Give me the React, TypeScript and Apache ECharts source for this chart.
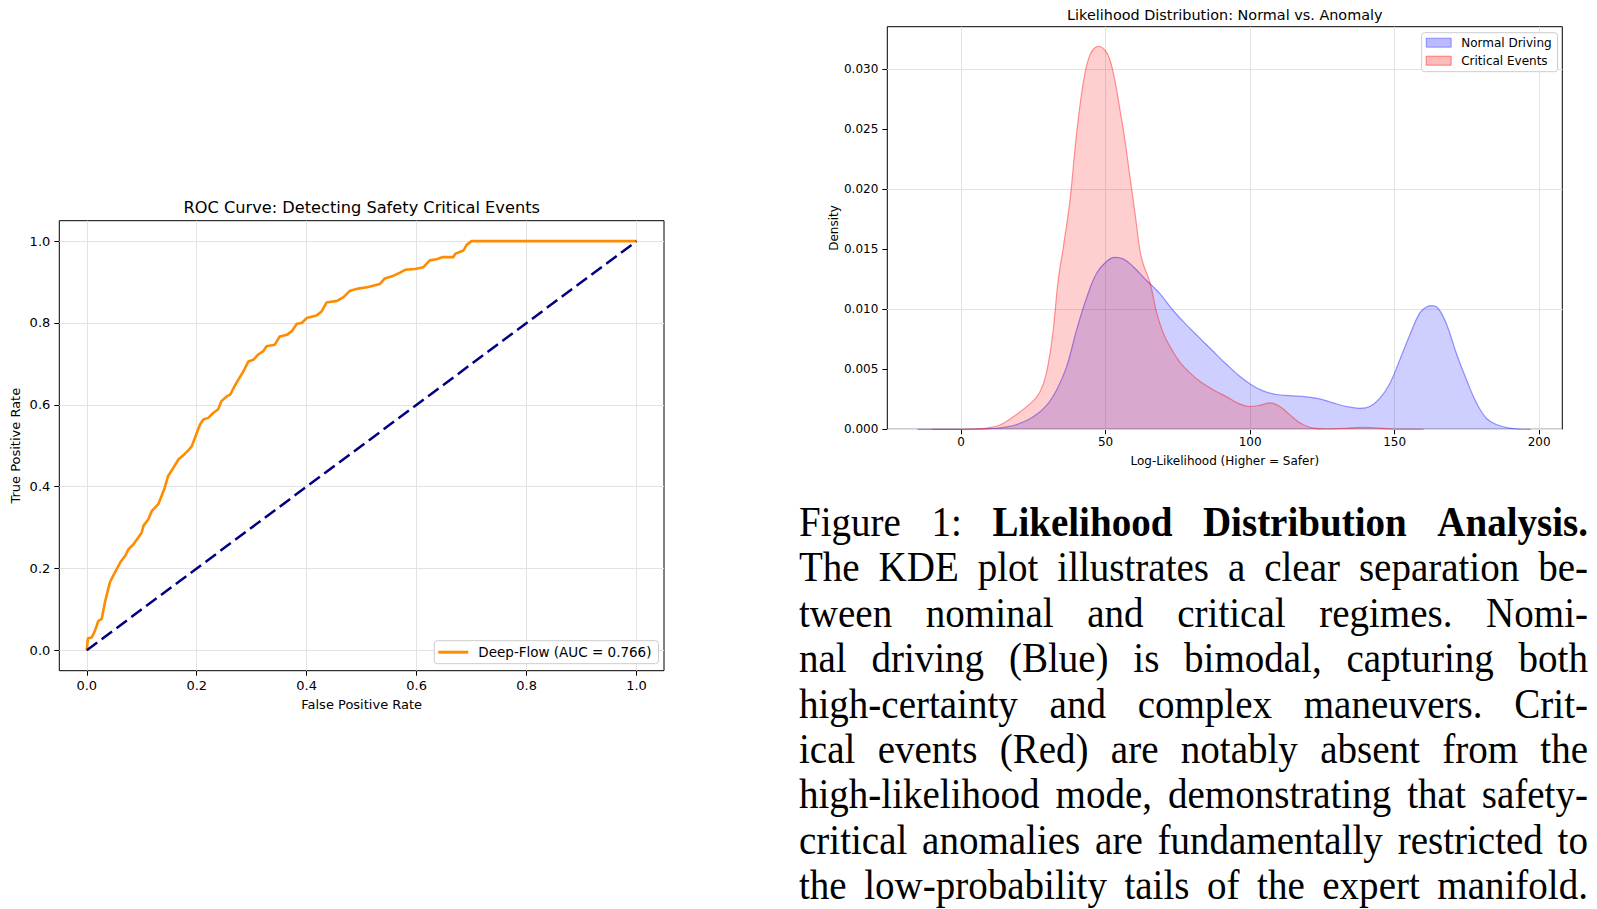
import React, { useEffect, useRef } from 'react';
import * as echarts from 'echarts';

// ---------- ROC data ----------
const rocFpr = [0, 0.002, 0.009, 0.015, 0.021, 0.027, 0.033, 0.042, 0.051, 0.061, 0.07, 0.076, 0.085, 0.094, 0.1, 0.103, 0.112, 0.118, 0.13, 0.136, 0.142, 0.148, 0.157, 0.167, 0.176, 0.185, 0.191, 0.197, 0.206, 0.212, 0.221, 0.23, 0.239, 0.245, 0.255, 0.261, 0.267, 0.276, 0.285, 0.294, 0.303, 0.312, 0.321, 0.327, 0.342, 0.351, 0.364, 0.373, 0.382, 0.391, 0.4, 0.418, 0.427, 0.436, 0.455, 0.467, 0.479, 0.494, 0.512, 0.533, 0.542, 0.555, 0.57, 0.579, 0.597, 0.612, 0.624, 0.636, 0.648, 0.667, 0.67, 0.685, 0.691, 0.7, 0.76, 1.0];
const rocTpr = [0, 0.029, 0.031, 0.048, 0.072, 0.076, 0.117, 0.166, 0.19, 0.215, 0.231, 0.247, 0.259, 0.276, 0.288, 0.304, 0.32, 0.34, 0.357, 0.377, 0.398, 0.426, 0.445, 0.467, 0.477, 0.489, 0.499, 0.52, 0.552, 0.564, 0.568, 0.58, 0.589, 0.609, 0.621, 0.625, 0.641, 0.662, 0.682, 0.706, 0.71, 0.723, 0.731, 0.743, 0.747, 0.767, 0.771, 0.78, 0.798, 0.8, 0.812, 0.818, 0.828, 0.85, 0.854, 0.863, 0.879, 0.884, 0.888, 0.895, 0.909, 0.914, 0.923, 0.93, 0.932, 0.936, 0.953, 0.956, 0.961, 0.961, 0.969, 0.977, 0.991, 1.0, 1.0, 1.0];
const diagX = [0, 1];
const diagY = [0, 1];
const rocXTicks = [0, 0.2, 0.4, 0.6, 0.8, 1.0];
const rocYTicks = [0, 0.2, 0.4, 0.6, 0.8, 1.0];
const rocTitle = 'ROC Curve: Detecting Safety Critical Events';
const rocLegendName = 'Deep-Flow (AUC = 0.766)';

// ---------- KDE data ----------
const normalX = [-15, -5, 5, 10, 15.8, 20.4, 25, 29.6, 33.1, 36.5, 40, 43.5, 46.9, 50.4, 53.2, 56.1, 59.6, 64.2, 68.8, 73.4, 78, 82.6, 87.2, 91.9, 96.5, 99.9, 104.5, 109.2, 113.8, 119.5, 124.1, 128.7, 133.4, 138, 141.4, 144.9, 148.3, 151.8, 155.3, 158.7, 161, 163, 165, 167.9, 171.4, 174.9, 178.3, 181.8, 185.2, 189.8, 193, 197];
const normalY = [0, 0, 0.00001, 0.00005, 0.0002, 0.0005, 0.00105, 0.002, 0.0033, 0.0052, 0.0083, 0.011, 0.013, 0.014, 0.01433, 0.0142, 0.01355, 0.0124, 0.0113, 0.0099, 0.0087, 0.0076, 0.0065, 0.0054, 0.0044, 0.0038, 0.0032, 0.0029, 0.0028, 0.0027, 0.00253, 0.0022, 0.0019, 0.00175, 0.0019, 0.0026, 0.0038, 0.0058, 0.0079, 0.0097, 0.0102, 0.0103, 0.0101, 0.0088, 0.0063, 0.0041, 0.0022, 0.0009, 0.0004, 0.0001, 0.00002, 0];
const criticalX = [-10, 0, 5, 8.9, 13.5, 18.1, 22.7, 26.2, 28.5, 30.2, 31.9, 33.6, 35.4, 37.7, 39.4, 41.1, 42.9, 44.6, 46.3, 47.8, 49.8, 51.5, 53.2, 55, 56.7, 58.4, 60.2, 61.9, 63, 65.4, 67.7, 70, 72.3, 75.7, 79.2, 82.6, 87.2, 91.9, 96.5, 99.9, 103.4, 106.8, 110.3, 113.8, 117.2, 121.8, 126, 130, 135, 139.1, 144.9, 149.5, 155, 160];
const criticalY = [0, 0, 0.00003, 0.0001, 0.00036, 0.00105, 0.00189, 0.0027, 0.0038, 0.0055, 0.0083, 0.0124, 0.0152, 0.0191, 0.0233, 0.0269, 0.0297, 0.0312, 0.0318, 0.0319, 0.0316, 0.0308, 0.0291, 0.0266, 0.0241, 0.0211, 0.018, 0.0149, 0.0138, 0.0122, 0.0097, 0.008, 0.0069, 0.0056, 0.0047, 0.004, 0.0033, 0.0027, 0.0021, 0.0019, 0.002, 0.0022, 0.0019, 0.0012, 0.00055, 0.0001, 0.00003, 0.00005, 0.00012, 0.00017, 0.0001, 0.00002, 0, 0];
const kdeXTicks = [0, 50, 100, 150, 200];
const kdeYTicks = [0, 0.005, 0.01, 0.015, 0.02, 0.025, 0.03];
const kdeTitle = 'Likelihood Distribution: Normal vs. Anomaly';
const normalName = 'Normal Driving';
const criticalName = 'Critical Events';

// ---------- Caption ----------
const words = (s: string) => s.split(/\s+/).map((t) => ({ text: t, bold: false }));
const captionLines: { text: string; bold?: boolean }[][] = [
  [{ text: 'Figure' }, { text: '1:' }, { text: 'Likelihood', bold: true }, { text: 'Distribution', bold: true }, { text: 'Analysis.', bold: true }],
  words('The KDE plot illustrates a clear separation be-'),
  words('tween nominal and critical regimes.  Nomi-'),
  words('nal driving (Blue) is bimodal, capturing both'),
  words('high-certainty and complex maneuvers.  Crit-'),
  words('ical events (Red) are notably absent from the'),
  words('high-likelihood mode, demonstrating that safety-'),
  words('critical anomalies are fundamentally restricted to'),
  words('the low-probability tails of the expert manifold.'),
];

const FONT = 'DejaVu Sans';
const CAP_SCALE = 0.94;
const CAP_WIDTH = 789;

function gridLines(axisIndex: number, xTicks: number[], yTicks: number[]) {
  return {
    type: 'line',
    xAxisIndex: axisIndex,
    yAxisIndex: axisIndex,
    data: [],
    silent: true,
    z: 1,
    markLine: {
      silent: true,
      z: 1,
      symbol: ['none', 'none'],
      label: { show: false },
      animation: false,
      lineStyle: { color: '#e3e3e3', width: 1, type: 'solid' },
      emphasis: { disabled: true },
      data: [...xTicks.map((v) => ({ xAxis: v })), ...yTicks.map((v) => ({ yAxis: v }))],
    },
  };
}

export default function App() {
  const ref = useRef<HTMLDivElement>(null);
  useEffect(() => {
    const chart = echarts.init(ref.current!, null, { renderer: 'svg' });
    const axisText = { fontSize: 13, color: '#000', fontFamily: FONT };
    const kdeText = { fontSize: 12, color: '#000', fontFamily: FONT };
    const tick = (vals: number[]) => ({ show: true, customValues: vals, length: 5, lineStyle: { color: '#000', width: 1 } });
    const noLine = { show: false, onZero: false };
    const option: any = {
      animation: false,
      backgroundColor: '#fff',
      grid: [
        { left: 59.3, top: 220.7, width: 604.7, height: 450, show: true, borderColor: '#000', borderWidth: 1, backgroundColor: 'transparent' },
        { left: 887.3, top: 26.7, width: 675, height: 402.6, show: true, borderColor: '#000', borderWidth: 1, backgroundColor: 'transparent' },
      ],
      graphic: [
        { type: 'text', x: 361.7, y: 207.5, style: { text: rocTitle, fontSize: 16.2, fontFamily: FONT, fill: '#000', align: 'center', verticalAlign: 'middle' } },
        { type: 'text', x: 1224.8, y: 14.8, style: { text: kdeTitle, fontSize: 14.4, fontFamily: FONT, fill: '#000', align: 'center', verticalAlign: 'middle' } },
      ],
      legend: [
        {
          left: 434.3, top: 640.7, padding: [4, 7, 4, 4], z: 10,
          itemWidth: 30, itemHeight: 3,
          backgroundColor: '#fff', borderColor: '#ccc', borderWidth: 1, borderRadius: 3,
          textStyle: { ...axisText, fontSize: 13.5, padding: [0, 0, 0, 5], lineHeight: 15 },
          data: [{ name: rocLegendName, icon: 'rect', itemStyle: { color: '#FF8C00' } }],
        },
        {
          orient: 'vertical', left: 1421.7, top: 32.7, padding: [3, 6, 4, 4], z: 10,
          itemWidth: 25, itemHeight: 9, itemGap: 4,
          backgroundColor: '#fff', borderColor: '#ccc', borderWidth: 1, borderRadius: 3,
          textStyle: { ...kdeText, padding: [0, 0, 0, 5], lineHeight: 14 },
          data: [
            { name: normalName, icon: 'rect', itemStyle: { color: 'rgba(0,0,255,0.27)', borderColor: 'rgba(0,0,255,0.35)', borderWidth: 1 } },
            { name: criticalName, icon: 'rect', itemStyle: { color: 'rgba(255,0,0,0.27)', borderColor: 'rgba(255,0,0,0.45)', borderWidth: 1 } },
          ],
        },
      ],
      xAxis: [
        {
          type: 'value', gridIndex: 0, min: -0.05, max: 1.05,
          splitLine: { show: false }, axisLine: noLine, axisTick: tick(rocXTicks),
          axisLabel: { customValues: rocXTicks, formatter: (v: number) => v.toFixed(1), margin: 8, ...axisText },
          name: 'False Positive Rate', nameLocation: 'middle', nameGap: 27, nameTextStyle: axisText,
        },
        {
          type: 'value', gridIndex: 1, min: -25.5, max: 208,
          splitLine: { show: false }, axisLine: noLine, axisTick: tick(kdeXTicks),
          axisLabel: { customValues: kdeXTicks, formatter: (v: number) => String(Math.round(v)), margin: 7, ...kdeText },
          name: 'Log-Likelihood (Higher = Safer)', nameLocation: 'middle', nameGap: 25.5, nameTextStyle: kdeText,
        },
      ],
      yAxis: [
        {
          type: 'value', gridIndex: 0, min: -0.05, max: 1.05,
          splitLine: { show: false }, axisLine: noLine, axisTick: tick(rocYTicks),
          axisLabel: { customValues: rocYTicks, formatter: (v: number) => v.toFixed(1), margin: 9, ...axisText },
          name: 'True Positive Rate', nameLocation: 'middle', nameGap: 37, nameTextStyle: axisText,
        },
        {
          type: 'value', gridIndex: 1, min: 0, max: 0.03355,
          splitLine: { show: false }, axisLine: noLine, axisTick: tick(kdeYTicks),
          axisLabel: { customValues: kdeYTicks, formatter: (v: number) => v.toFixed(3), margin: 9, ...kdeText },
          name: 'Density', nameLocation: 'middle', nameGap: 46, nameTextStyle: kdeText,
        },
      ],
      series: [
        gridLines(0, rocXTicks, rocYTicks),
        {
          name: rocLegendName, type: 'line', xAxisIndex: 0, yAxisIndex: 0,
          data: rocFpr.map((x, i) => [x, rocTpr[i]]),
          symbol: 'none', showSymbol: false, z: 3,
          lineStyle: { color: '#FF8C00', width: 2.6 }, itemStyle: { color: '#FF8C00' },
        },
        {
          name: 'Chance', type: 'line', xAxisIndex: 0, yAxisIndex: 0,
          data: diagX.map((x, i) => [x, diagY[i]]),
          symbol: 'none', showSymbol: false, z: 4,
          lineStyle: { color: '#000080', width: 2.5, type: [13, 5.5] }, itemStyle: { color: '#000080' },
        },
        gridLines(1, kdeXTicks, kdeYTicks),
        {
          name: normalName, type: 'line', xAxisIndex: 1, yAxisIndex: 1,
          data: normalX.map((x, i) => [x, normalY[i]]),
          symbol: 'none', showSymbol: false, smooth: 0.4, z: 3,
          lineStyle: { color: 'rgba(0,0,255,0.4)', width: 1.2 },
          itemStyle: { color: 'rgba(0,0,255,0.27)' },
          areaStyle: { color: 'rgba(0,0,255,0.27)' },
        },
        {
          name: criticalName, type: 'line', xAxisIndex: 1, yAxisIndex: 1,
          data: criticalX.map((x, i) => [x, criticalY[i]]),
          symbol: 'none', showSymbol: false, smooth: 0.4, z: 4,
          lineStyle: { color: 'rgba(255,0,0,0.4)', width: 1.2 },
          itemStyle: { color: 'rgba(255,0,0,0.27)' },
          areaStyle: { color: 'rgba(255,0,0,0.27)' },
        },
      ],
    };
    chart.setOption(option);
    return () => chart.dispose();
  }, []);

  return (
    <div style={{ position: 'fixed', left: 0, top: 0, width: 1597, height: 909, background: '#fff', overflow: 'hidden' }}>
      <div ref={ref} style={{ position: 'absolute', left: 0, top: 0, width: 1597, height: 909 }} />
      {captionLines.map((ws, li) => (
        <div
          key={li}
          style={{
            position: 'absolute', left: 799, width: CAP_WIDTH / CAP_SCALE, top: 500 + li * 45.4, height: 45.4,
            transform: `scaleX(${CAP_SCALE})`, transformOrigin: '0 0',
            lineHeight: '45.4px', fontFamily: '"Liberation Serif", "Times New Roman", serif', fontSize: 41.5,
            color: '#000', display: 'flex', justifyContent: 'space-between', whiteSpace: 'nowrap',
          }}
        >
          {ws.map((w, wi) => (
            <span key={wi} style={{ fontWeight: w.bold ? 'bold' : 'normal' }}>{w.text}</span>
          ))}
        </div>
      ))}
    </div>
  );
}
